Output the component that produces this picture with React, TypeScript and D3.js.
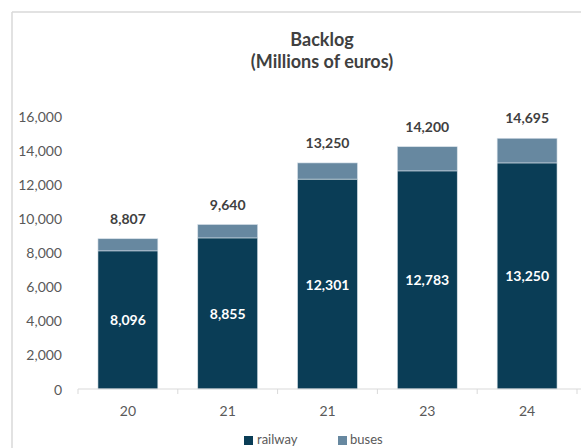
import React from "react";
import * as d3 from "d3";

const categories = ["20", "21", "21", "23", "24"];
const railway = [8096, 8855, 12301, 12783, 13250];
const buses = [711, 785, 949, 1417, 1445];
const totals = [8807, 9640, 13250, 14200, 14695];
const yTicks = [0, 2000, 4000, 6000, 8000, 10000, 12000, 14000, 16000];
const seriesNames = ["railway", "buses"];

const W = 581;
const H = 448;
const FONT = "Lato, 'Open Sans', sans-serif";
const DARK = "#0a3d56";
const LIGHT = "#6788a0";
const GRID = "#d9d9d9";

export default function App() {
  const idx = categories.map((_, i) => String(i));
  const x = d3.scaleBand<string>().domain(idx).range([78, 577]).paddingInner(0.4).paddingOuter(0.2);
  const y = d3.scaleLinear().domain([0, 16000]).range([389, 116]);
  const fmt = d3.format(",");
  const step = x.step();
  const x0 = 78;

  return (
    <svg width={W} height={H} style={{ position: "absolute", left: 0, top: 0 }} fontFamily={FONT}>
      <rect x={0} y={0} width={W} height={H} fill="#fff" />
      <line x1={12} y1={12} x2={W} y2={12} stroke={GRID} strokeWidth={1.5} />
      <line x1={12} y1={12} x2={12} y2={H} stroke={GRID} strokeWidth={1.5} />

      <text x={322} y={46} textAnchor="middle" fontSize={18} fontWeight="bold" fill="#404040">Backlog</text>
      <text x={322} y={68} textAnchor="middle" fontSize={18} fontWeight="bold" fill="#404040">(Millions of euros)</text>

      {yTicks.map((t) => (
        <text key={t} x={62} y={y(t)} textAnchor="end" dominantBaseline="central" fontSize={14} fill="#595959">
          {fmt(t)}
        </text>
      ))}

      {categories.map((c, i) => {
        const bx = x(String(i))!;
        const bw = x.bandwidth();
        const yr = y(railway[i]);
        const yb = y(railway[i] + buses[i]);
        return (
          <g key={i}>
            <rect x={bx} y={yr} width={bw} height={y(0) - yr} fill={DARK} stroke="#d6e0e8" strokeWidth={0.6} />
            <rect x={bx} y={yb} width={bw} height={yr - yb} fill={LIGHT} stroke="#d6e0e8" strokeWidth={0.6} />
            <text x={bx + bw / 2} y={(y(0) + yr) / 2} textAnchor="middle" dominantBaseline="central" fontSize={14} fontWeight="bold" fill="#fff">
              {fmt(railway[i])}
            </text>
            <text x={bx + bw / 2} y={y(totals[i]) - 15} textAnchor="middle" fontSize={14} fontWeight="bold" fill="#404040">
              {fmt(totals[i])}
            </text>
            <text x={bx + bw / 2} y={410} textAnchor="middle" dominantBaseline="central" fontSize={14} fill="#595959">
              {c}
            </text>
          </g>
        );
      })}

      <line x1={x0} y1={y(0)} x2={W} y2={y(0)} stroke={GRID} strokeWidth={1} />
      {d3.range(categories.length + 1).map((k) => (
        <line key={k} x1={x0 + k * step} y1={y(0)} x2={x0 + k * step} y2={y(0) + 5} stroke={GRID} strokeWidth={1} />
      ))}

      <g>
        <rect x={244} y={436} width={9} height={9} fill={DARK} />
        <text x={257} y={444} fontSize={13} fill="#595959">{seriesNames[0]}</text>
        <rect x={338} y={436} width={9} height={9} fill={LIGHT} />
        <text x={350} y={444} fontSize={13} fill="#595959">{seriesNames[1]}</text>
      </g>
    </svg>
  );
}
